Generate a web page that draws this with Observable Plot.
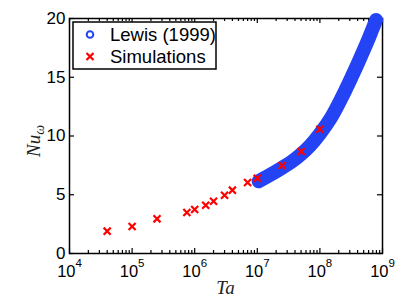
<!DOCTYPE html>
<html><head><meta charset="utf-8">
<script src="https://cdn.jsdelivr.net/npm/d3@7"></script>
<script src="https://cdn.jsdelivr.net/npm/@observablehq/plot@0.6"></script>
<style>body{margin:0;background:#fff}</style>
</head><body><div id="chart"></div>
<script>
// Lewis (1999) correlation (dense markers, read along the band centre)
const lewisTa = [1.05e7, 1.5e7, 2.5e7, 3.5e7, 5e7, 7e7, 1e8, 1.5e8, 2.2e8, 3.2e8, 4.3e8, 5.5e8, 6.8e8, 7.9e8];
const lewisNu = [6.15, 6.6, 7.3, 7.8, 8.45, 9.2, 10.2, 11.55, 13.2, 15.0, 16.5, 17.8, 19.0, 19.87];
// Simulations
const simTa = [4e4, 1e5, 2.5e5, 7.5e5, 1e6, 1.5e6, 2e6, 3e6, 4e6, 7e6, 1e7, 2.5e7, 5e7, 1e8];
const simNu = [1.90, 2.30, 2.95, 3.49, 3.74, 4.11, 4.45, 4.96, 5.39, 6.04, 6.41, 7.49, 8.68, 10.58];
// ticks
const xTicks = [1e4, 1e5, 1e6, 1e7, 1e8, 1e9];
const xTickExp = ["4", "5", "6", "7", "8", "9"];
const xMinorMult = [2, 3, 4, 5, 6, 7, 8, 9];
const yTicks = [0, 5, 10, 15, 20];
const legendLabels = ["Lewis (1999)", "Simulations"];
const xLabel = "Ta";

const W = 407, H = 306, ML = 69, MR = 25, MT = 18, MB = 53;
const FH = H - MT - MB, FW = W - ML - MR;
const BLUE = "#2343f5", RED = "#ff0000";

const lewis = lewisTa.map((t, i) => ({Ta: t, Nu: lewisNu[i]}));
const sims = simTa.map((t, i) => ({Ta: t, Nu: simNu[i]}));
const xMinor = xTicks.slice(0, -1).flatMap(d => xMinorMult.map(m => d * m));

const chart = Plot.plot({
  width: W, height: H,
  marginLeft: ML, marginRight: MR, marginTop: MT, marginBottom: MB,
  style: {fontFamily: "'Liberation Sans', Arial, Helvetica, sans-serif", fontSize: "16.5px", color: "black", background: "white"},
  x: {type: "log", domain: [1e4, 1e9]},
  y: {domain: [0, 20]},
  marks: [
    Plot.frame({stroke: "black", strokeWidth: 1.5}),
    Plot.tickX(xTicks, {x: d => d, insetTop: FH - 5, stroke: "black", strokeWidth: 1.2}),
    Plot.tickX(xTicks, {x: d => d, insetBottom: FH - 5, stroke: "black", strokeWidth: 1.2}),
    Plot.tickX(xMinor, {x: d => d, insetTop: FH - 3, stroke: "black", strokeWidth: 1.2}),
    Plot.tickX(xMinor, {x: d => d, insetBottom: FH - 3, stroke: "black", strokeWidth: 1.2}),
    Plot.tickY(yTicks, {y: d => d, insetRight: FW - 5, stroke: "black", strokeWidth: 1.2}),
    Plot.tickY(yTicks, {y: d => d, insetLeft: FW - 5, stroke: "black", strokeWidth: 1.2}),
    Plot.axisX({ticks: xTicks, tickSize: 0, tickPadding: 12, tickFormat: () => "10", label: null, fontSize: 16.5}),
    Plot.axisY({ticks: yTicks, tickSize: 0, tickPadding: 4, label: null, fontSize: 17}),
    Plot.line(lewis, {x: "Ta", y: "Nu", stroke: BLUE, strokeWidth: 14, strokeLinecap: "round", strokeLinejoin: "round", curve: "catmull-rom"}),
    Plot.dot(sims, {x: "Ta", y: "Nu", symbol: "times", r: 3.3, stroke: RED, strokeWidth: 2.2})
  ]
});

document.getElementById("chart").appendChild(chart);
const svg = d3.select(chart);

// superscript exponents on x tick labels
svg.selectAll('g[aria-label="x-axis tick label"] text').each(function(d, i) {
  const t = d3.select(this);
  t.text("10");
  t.append("tspan").attr("dy", "-10").attr("font-size", "11.5px").text(xTickExp[i]);
});

// axis titles
svg.append("text")
  .attr("x", ML + FW / 2).attr("y", 293.5)
  .attr("text-anchor", "middle")
  .attr("font-family", "'Liberation Serif', 'DejaVu Serif', serif")
  .attr("font-style", "italic").attr("font-size", "19px").attr("fill", "#222")
  .text(xLabel);

const yl = svg.append("text")
  .attr("transform", `translate(40,141) rotate(-90)`)
  .attr("text-anchor", "middle")
  .attr("font-family", "'Liberation Serif', 'DejaVu Serif', serif")
  .attr("font-style", "italic").attr("font-size", "19px").attr("fill", "#222");
yl.append("tspan").text("Nu");
yl.append("tspan").attr("dy", "4").attr("font-size", "14px").text("ω");

// legend
const lg = svg.append("g").attr("text-anchor", "start");
lg.append("rect").attr("x", 73).attr("y", 22).attr("width", 143).attr("height", 47)
  .attr("fill", "white").attr("stroke", "black").attr("stroke-width", 1.5);
lg.append("circle").attr("cx", 90).attr("cy", 34.5).attr("r", 3.3)
  .attr("fill", "none").attr("stroke", BLUE).attr("stroke-width", 2);
lg.append("path").attr("d", d3.symbol(d3.symbolTimes, Math.PI * 3.3 * 3.3)())
  .attr("transform", "translate(90,56.5)")
  .attr("fill", "none").attr("stroke", RED).attr("stroke-width", 2.2);
lg.selectAll("text.l").data(legendLabels).join("text")
  .attr("x", 110).attr("y", (d, i) => 41 + i * 21.5)
  .attr("text-anchor", "start")
  .attr("font-family", "'Liberation Sans', Arial, Helvetica, sans-serif")
  .attr("font-size", "18.5px").attr("fill", "black")
  .text(d => d);
</script>
</body></html>
